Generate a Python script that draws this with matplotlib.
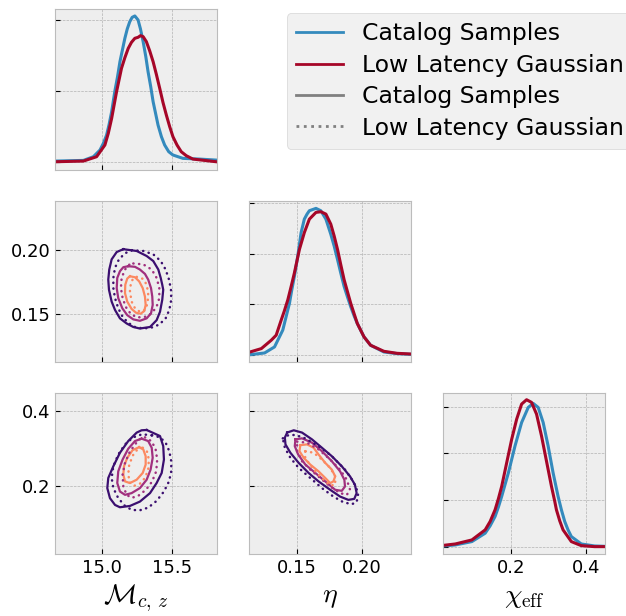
import numpy as np
import matplotlib.pyplot as plt
from matplotlib.lines import Line2D

plt.style.use("bmh")

# axis ranges and ticks
mc_lim = (14.670, 15.818)
eta_lim = (0.113, 0.238)
chi_lim = (0.020, 0.449)
mc_ticks = [15.0, 15.5]
eta_ticks = [0.15, 0.20]
chi_ticks = [0.2, 0.4]

# 1D densities
mc_cat_x = [14.672, 14.870, 14.941, 14.988, 15.012, 15.035, 15.052, 15.071, 15.094, 15.113, 15.130, 15.165,
            15.182, 15.200, 15.217, 15.236, 15.259, 15.276, 15.295, 15.314, 15.330, 15.349, 15.366, 15.401,
            15.425, 15.448, 15.477, 15.507, 15.578, 15.696, 15.814]
mc_cat_y = [0.014, 0.028, 0.106, 0.247, 0.388, 0.564, 0.775, 1.057, 1.494, 1.797, 2.113, 2.607,
            2.804, 2.959, 3.050, 3.079, 2.994, 2.804, 2.536, 2.219, 1.902, 1.585, 1.268, 0.775,
            0.529, 0.353, 0.212, 0.142, 0.071, 0.056, 0.035]
mc_ll_x = [14.672, 14.870, 14.964, 15.023, 15.047, 15.071, 15.106, 15.141, 15.165, 15.189, 15.212, 15.236,
           15.259, 15.276, 15.295, 15.318, 15.342, 15.366, 15.389, 15.413, 15.436, 15.460, 15.484, 15.507,
           15.536, 15.566, 15.602, 15.649, 15.814]
mc_ll_y = [0.0, 0.014, 0.106, 0.353, 0.599, 0.916, 1.480, 1.973, 2.198, 2.395, 2.522, 2.607,
           2.628, 2.663, 2.642, 2.536, 2.339, 2.113, 1.846, 1.550, 1.254, 0.987, 0.740, 0.529,
           0.353, 0.212, 0.127, 0.056, 0.0]

eta_cat_x = [0.1136, 0.1248, 0.1325, 0.1389, 0.1415, 0.1441, 0.1459, 0.1479, 0.1505, 0.1531, 0.1556, 0.1577,
             0.1595, 0.1646, 0.1684, 0.1723, 0.1761, 0.1787, 0.1813, 0.1838, 0.1864, 0.1889, 0.1915, 0.1941,
             0.1966, 0.2018, 0.2069, 0.2172, 0.2274, 0.2377]
eta_cat_y = [0.053, 0.319, 1.274, 3.929, 6.052, 8.176, 10.30, 12.423, 15.608, 19.325, 21.448, 22.24,
             22.775, 23.147, 22.775, 21.448, 19.059, 17.20, 15.078, 12.95, 10.830, 9.24, 7.645, 6.21,
             4.990, 2.867, 1.540, 0.478, 0.212, 0.106]
eta_ll_x = [0.1136, 0.1223, 0.1300, 0.1338, 0.1377, 0.1402, 0.1428, 0.1454, 0.1479, 0.1518, 0.1556, 0.1595,
            0.1646, 0.1684, 0.1723, 0.1761, 0.1787, 0.1813, 0.1838, 0.1864, 0.1915, 0.1966, 0.2018, 0.2069,
            0.2172, 0.2274, 0.2377]
eta_ll_y = [0.478, 1.009, 2.336, 3.13, 5.521, 7.01, 8.707, 10.83, 12.954, 16.670, 19.325, 21.448,
            22.510, 22.616, 22.244, 20.652, 18.79, 16.670, 14.28, 11.892, 8.176, 4.990, 2.867, 1.540,
            0.584, 0.265, 0.159]

chi_cat_x = [0.0219, 0.0519, 0.0959, 0.1312, 0.1444, 0.1576, 0.1664, 0.1752, 0.1929, 0.2105, 0.2281, 0.2457,
             0.2589, 0.2722, 0.2854, 0.2986, 0.3118, 0.3250, 0.3338, 0.3427, 0.3515, 0.3603, 0.3867, 0.4220,
             0.4484]
chi_cat_y = [0.029, 0.072, 0.216, 0.576, 0.892, 1.295, 1.698, 2.158, 3.165, 4.316, 5.324, 5.971,
             6.144, 5.971, 5.324, 4.316, 3.165, 2.158, 1.583, 1.079, 0.719, 0.432, 0.115, 0.029,
             0.014]
chi_ll_x = [0.0219, 0.0519, 0.0959, 0.1312, 0.1444, 0.1576, 0.1664, 0.1752, 0.1884, 0.2017, 0.2149, 0.2281,
            0.2413, 0.2545, 0.2678, 0.2810, 0.2942, 0.3074, 0.3162, 0.3206, 0.3294, 0.3383, 0.3603, 0.3867,
            0.4220, 0.4484]
chi_ll_y = [0.058, 0.115, 0.288, 0.719, 1.079, 1.583, 2.057, 2.590, 3.597, 4.604, 5.467, 6.115,
            6.302, 6.188, 5.683, 4.748, 3.669, 2.590, 1.942, 1.583, 1.108, 0.719, 0.216, 0.043,
            0.0, 0.0]

# 2D credible contours, (x, y) pairs, outer -> inner
mc_eta_cat = [
    [(15.154, 0.2006), (15.249, 0.1992), (15.320, 0.1953), (15.367, 0.1914), (15.403, 0.1848), (15.420, 0.1783),
     (15.431, 0.1730), (15.438, 0.1691), (15.431, 0.1613), (15.415, 0.1520), (15.391, 0.1455), (15.344, 0.1402),
     (15.272, 0.1390), (15.225, 0.1402), (15.178, 0.1429), (15.130, 0.1469), (15.095, 0.1534), (15.071, 0.1599),
     (15.052, 0.1691), (15.047, 0.1770), (15.054, 0.1848), (15.071, 0.1927), (15.107, 0.1984)],
    [(15.189, 0.1874), (15.237, 0.1869), (15.272, 0.1848), (15.308, 0.1814), (15.331, 0.1770), (15.351, 0.1704),
     (15.360, 0.1638), (15.363, 0.1573), (15.351, 0.1508), (15.320, 0.1469), (15.272, 0.1450), (15.225, 0.1461),
     (15.182, 0.1494), (15.147, 0.1547), (15.118, 0.1626), (15.107, 0.1704), (15.111, 0.1783), (15.130, 0.1835),
     (15.154, 0.1866)],
    [(15.201, 0.1796), (15.237, 0.1788), (15.267, 0.1756), (15.292, 0.1704), (15.308, 0.1638), (15.313, 0.1573),
     (15.303, 0.1526), (15.277, 0.1505), (15.244, 0.1513), (15.213, 0.1542), (15.182, 0.1599), (15.166, 0.1665),
     (15.168, 0.1730), (15.182, 0.1778)],
]
mc_eta_ll = [
    [(15.213, 0.1998), (15.296, 0.1992), (15.367, 0.1966), (15.420, 0.1914), (15.455, 0.1848), (15.479, 0.1770),
     (15.493, 0.1691), (15.495, 0.1613), (15.481, 0.1534), (15.455, 0.1469), (15.410, 0.1421), (15.356, 0.1398),
     (15.296, 0.1390), (15.237, 0.1402), (15.189, 0.1434), (15.149, 0.1481), (15.118, 0.1547), (15.095, 0.1626),
     (15.083, 0.1704), (15.083, 0.1783), (15.095, 0.1862), (15.123, 0.1927), (15.166, 0.1974)],
    [(15.225, 0.1895), (15.296, 0.1888), (15.356, 0.1848), (15.391, 0.1783), (15.410, 0.1704), (15.410, 0.1626),
     (15.391, 0.1560), (15.356, 0.1508), (15.308, 0.1481), (15.253, 0.1476), (15.208, 0.1502), (15.173, 0.1555),
     (15.149, 0.1626), (15.137, 0.1704), (15.142, 0.1783), (15.166, 0.1848), (15.196, 0.1885)],
    [(15.249, 0.1791), (15.296, 0.1775), (15.320, 0.1730), (15.331, 0.1665), (15.327, 0.1586), (15.308, 0.1534),
     (15.272, 0.1520), (15.237, 0.1547), (15.213, 0.1599), (15.201, 0.1678), (15.208, 0.1744), (15.225, 0.1780)],
]

mc_chi_cat = [
    [(15.320, 0.3505), (15.415, 0.3344), (15.438, 0.3075), (15.443, 0.2718), (15.427, 0.2360), (15.391, 0.2092),
     (15.344, 0.1823), (15.272, 0.1597), (15.201, 0.1481), (15.130, 0.1446), (15.095, 0.1508), (15.059, 0.1688),
     (15.040, 0.1957), (15.047, 0.2226), (15.083, 0.2538), (15.130, 0.2898), (15.189, 0.3210), (15.249, 0.3435),
     (15.284, 0.3497)],
    [(15.284, 0.3274), (15.331, 0.3210), (15.356, 0.3032), (15.363, 0.2764), (15.348, 0.2449), (15.320, 0.2180),
     (15.272, 0.1957), (15.213, 0.1823), (15.166, 0.1777), (15.130, 0.1866), (15.111, 0.2092), (15.118, 0.2403),
     (15.149, 0.2718), (15.189, 0.3005), (15.237, 0.3210)],
    [(15.267, 0.3048), (15.296, 0.2987), (15.313, 0.2807), (15.313, 0.2583), (15.292, 0.2360), (15.249, 0.2180),
     (15.201, 0.2091), (15.166, 0.2135), (15.154, 0.2315), (15.159, 0.2538), (15.182, 0.2763), (15.220, 0.2968)],
]
mc_chi_ll = [
    [(15.358, 0.3363), (15.415, 0.3309), (15.455, 0.3167), (15.481, 0.2941), (15.495, 0.2672), (15.495, 0.2403),
     (15.479, 0.2135), (15.443, 0.1866), (15.391, 0.1616), (15.331, 0.1436), (15.272, 0.1366), (15.215, 0.1374),
     (15.166, 0.1481), (15.118, 0.1688), (15.083, 0.1957), (15.071, 0.2226), (15.083, 0.2538), (15.118, 0.2852),
     (15.166, 0.3121), (15.225, 0.3309), (15.287, 0.3390)],
    [(15.308, 0.3309), (15.356, 0.3202), (15.384, 0.2987), (15.395, 0.2718), (15.388, 0.2403), (15.358, 0.2127),
     (15.315, 0.1912), (15.260, 0.1750), (15.213, 0.1696), (15.178, 0.1777), (15.154, 0.2000), (15.149, 0.2315),
     (15.166, 0.2629), (15.201, 0.2933), (15.249, 0.3175), (15.280, 0.3290)],
    [(15.292, 0.3032), (15.322, 0.2933), (15.336, 0.2718), (15.331, 0.2449), (15.308, 0.2226), (15.272, 0.2073),
     (15.232, 0.2019), (15.201, 0.2100), (15.189, 0.2315), (15.196, 0.2583), (15.223, 0.2833), (15.258, 0.3005)],
]

eta_chi_cat = [
    [(0.1423, 0.3436), (0.1474, 0.3497), (0.1538, 0.3436), (0.1615, 0.3255), (0.1692, 0.3032), (0.1769, 0.2806),
     (0.1846, 0.2538), (0.1910, 0.2269), (0.1948, 0.2046), (0.1961, 0.1823), (0.1943, 0.1670), (0.1897, 0.1643),
     (0.1833, 0.1731), (0.1756, 0.1912), (0.1666, 0.2135), (0.1589, 0.2360), (0.1512, 0.2629), (0.1448, 0.2898),
     (0.1410, 0.3121), (0.1405, 0.3301)],
    [(0.1487, 0.3255), (0.1538, 0.3282), (0.1615, 0.3167), (0.1692, 0.2941), (0.1769, 0.2672), (0.1833, 0.2403),
     (0.1866, 0.2180), (0.1871, 0.2000), (0.1846, 0.1884), (0.1795, 0.1911), (0.1718, 0.2135), (0.1641, 0.2360),
     (0.1564, 0.2583), (0.1508, 0.2852), (0.1482, 0.3075)],
    [(0.1525, 0.3102), (0.1577, 0.3121), (0.1628, 0.3032), (0.1666, 0.2852), (0.1718, 0.2629), (0.1769, 0.2449),
     (0.1795, 0.2269), (0.1781, 0.2135), (0.1756, 0.2091), (0.1718, 0.2226), (0.1666, 0.2403), (0.1602, 0.2583),
     (0.1551, 0.2764), (0.1518, 0.2941)],
]
eta_chi_ll = [
    [(0.1389, 0.3282), (0.1435, 0.3371), (0.1487, 0.3371), (0.1564, 0.3282), (0.1666, 0.3075), (0.1769, 0.2806),
     (0.1871, 0.2449), (0.1935, 0.2135), (0.1974, 0.1823), (0.1961, 0.1581), (0.1923, 0.1527), (0.1858, 0.1581),
     (0.1781, 0.1731), (0.1692, 0.1957), (0.1602, 0.2226), (0.1512, 0.2495), (0.1448, 0.2764), (0.1405, 0.3032)],
    [(0.1500, 0.3194), (0.1577, 0.3167), (0.1666, 0.2987), (0.1756, 0.2718), (0.1833, 0.2449), (0.1885, 0.2180),
     (0.1910, 0.1912), (0.1885, 0.1777), (0.1833, 0.1823), (0.1756, 0.2000), (0.1679, 0.2226), (0.1602, 0.2449),
     (0.1538, 0.2672), (0.1500, 0.2941)],
    [(0.1564, 0.2941), (0.1628, 0.2898), (0.1692, 0.2718), (0.1756, 0.2495), (0.1795, 0.2269), (0.1795, 0.2046),
     (0.1756, 0.2027), (0.1705, 0.2180), (0.1641, 0.2403), (0.1589, 0.2629), (0.1558, 0.2807)],
]

level_colors = ["#3b0f70", "#a1307e", "#fc8961"]
cat_color = "#348ABD"
ll_color = "#A60628"

fig = plt.figure(figsize=(6.26, 6.16), dpi=100)
col_left = [0.0883, 0.3983, 0.7082]
row_bottom = [0.7240, 0.4123, 0.1006]
w, h = 0.2578, 0.2614

axes = {}
for i in range(3):
    for j in range(i + 1):
        axes[i, j] = fig.add_axes([col_left[j], row_bottom[i], w, h])

lims = [mc_lim, eta_lim, chi_lim]
ticks = [mc_ticks, eta_ticks, chi_ticks]
labels = [r"$\mathcal{M}_{c,\,z}$", r"$\eta$", r"$\chi_{\rm eff}$"]

# diagonal
diag = [(mc_cat_x, mc_cat_y, mc_ll_x, mc_ll_y, [0, 1.5, 3.0], (-0.175, 3.226)),
        (eta_cat_x, eta_cat_y, eta_ll_x, eta_ll_y, [0, 8, 16, 24], (-1.11, 24.31)),
        (chi_cat_x, chi_cat_y, chi_ll_x, chi_ll_y, [0, 2, 4, 6], (-0.317, 6.59))]
for k, (cx, cy, lx, ly, yt, yl) in enumerate(diag):
    ax = axes[k, k]
    ax.plot(cx, cy, color=cat_color, lw=2.2, solid_joinstyle="round")
    ax.plot(lx, ly, color=ll_color, lw=2.2, solid_joinstyle="round")
    ax.set_yticks(yt)
    ax.set_ylim(yl)
    ax.set_yticklabels([])

# off-diagonal
dots = (0, (0.1, 2.2))
pairs = {(1, 0): (mc_eta_cat, mc_eta_ll),
         (2, 0): (mc_chi_cat, mc_chi_ll),
         (2, 1): (eta_chi_cat, eta_chi_ll)}
for (i, j), (cat, ll) in pairs.items():
    ax = axes[i, j]
    for ring, col in zip(cat, level_colors):
        p = np.array(ring + ring[:1])
        ax.plot(p[:, 0], p[:, 1], color=col, lw=1.6, ls="-", solid_joinstyle="round")
    for ring, col in zip(ll, level_colors):
        p = np.array(ring + ring[:1])
        ax.plot(p[:, 0], p[:, 1], color=col, lw=1.8, ls=dots, dash_capstyle="round")
    ax.set_ylim(lims[i])
    ax.set_yticks(ticks[i])

for (i, j), ax in axes.items():
    ax.set_xlim(lims[j])
    ax.set_xticks(ticks[j])
    ax.tick_params(labelsize=13)
    if i < 2:
        ax.set_xticklabels([])
    else:
        ax.set_xlabel(labels[j], fontsize=20)
    if j > 0:
        ax.set_yticklabels([])

handles = [Line2D([], [], color=cat_color, lw=2),
           Line2D([], [], color=ll_color, lw=2),
           Line2D([], [], color="gray", lw=2, ls="-"),
           Line2D([], [], color="gray", lw=2, ls=":")]
names = ["Catalog Samples", "Low Latency Gaussian", "Catalog Samples", "Low Latency Gaussian"]
fig.legend(handles, names, loc="upper left", bbox_to_anchor=(0.458, 0.979),
           borderaxespad=0, fontsize=16.9, labelspacing=0.36)

fig.savefig("out.png", dpi=100)
